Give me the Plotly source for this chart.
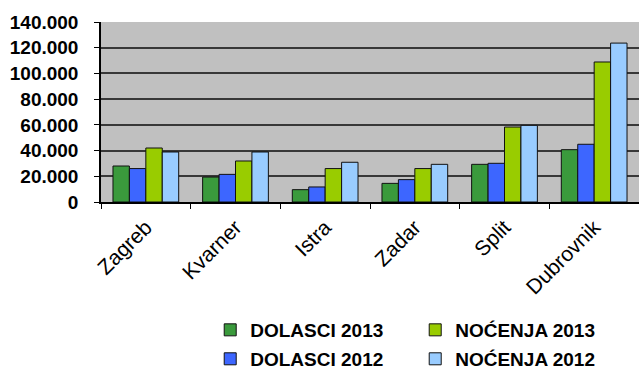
import plotly.graph_objects as go

# Tourist arrivals (DOLASCI) and overnight stays (NOĆENJA) by region
regions = ["Zagreb", "Kvarner", "Istra", "Zadar", "Split", "Dubrovnik"]
dolasci_2013 = [28000, 19400, 9600, 14500, 29300, 40700]
dolasci_2012 = [26000, 21500, 11700, 17400, 30100, 44900]
nocenja_2013 = [42000, 31900, 26000, 26000, 58300, 108900]
nocenja_2012 = [38900, 38900, 30900, 29300, 59600, 123600]

y_ticks = [0, 20000, 40000, 60000, 80000, 100000, 120000, 140000]

series = [
    ("DOLASCI 2013", dolasci_2013, "#3a9a3c", "legend"),
    ("DOLASCI 2012", dolasci_2012, "#3d66ff", "legend2"),
    ("NOĆENJA 2013", nocenja_2013, "#99cc00", "legend"),
    ("NOĆENJA 2012", nocenja_2012, "#99ccff", "legend2"),
]

fig = go.Figure()
for name, vals, color, leg in series:
    fig.add_trace(go.Bar(
        x=regions, y=vals, name=name, legend=leg,
        marker=dict(color=color, line=dict(color="#111111", width=1)),
    ))

font_family = "Liberation Sans, Arial, sans-serif"
legend_common = dict(
    orientation="h", xanchor="left", yanchor="middle",
    font=dict(family=font_family, size=19, color="#000000", weight="bold"),
    bgcolor="rgba(0,0,0,0)", entrywidth=160, itemwidth=30,
)

fig.update_layout(
    width=639, height=370,
    margin=dict(l=101, r=0, t=22, b=168, autoexpand=False),
    paper_bgcolor="#ffffff",
    plot_bgcolor="#c0c0c0",
    separators=",.",
    barmode="group",
    bargap=0.267,
    bargroupgap=0,
    legend=dict(x=0.203, y=-0.711, **legend_common),
    legend2=dict(x=0.203, y=-0.872, **legend_common),
    xaxis=dict(
        type="category",
        automargin=False,
        tickangle=-45,
        tickfont=dict(family=font_family, size=21, color="#000000"),
        ticklabelstandoff=3,
        showline=True, linecolor="#000000", linewidth=1.5,
        ticks="outside", tickson="boundaries", ticklen=5,
        tickcolor="#000000", tickwidth=1,
        showgrid=False,
    ),
    yaxis=dict(
        range=[0, 140000],
        automargin=False,
        tickvals=y_ticks,
        tickformat=",.0f",
        tickfont=dict(family=font_family, size=19, color="#000000", weight="bold"),
        showline=True, linecolor="#000000", linewidth=1.5,
        ticks="outside", ticklen=5, tickcolor="#000000", tickwidth=1,
        ticklabelstandoff=12,
        showgrid=True, gridcolor="#383838", gridwidth=1.8,
        zeroline=False,
    ),
)

fig.write_html("out.html")
